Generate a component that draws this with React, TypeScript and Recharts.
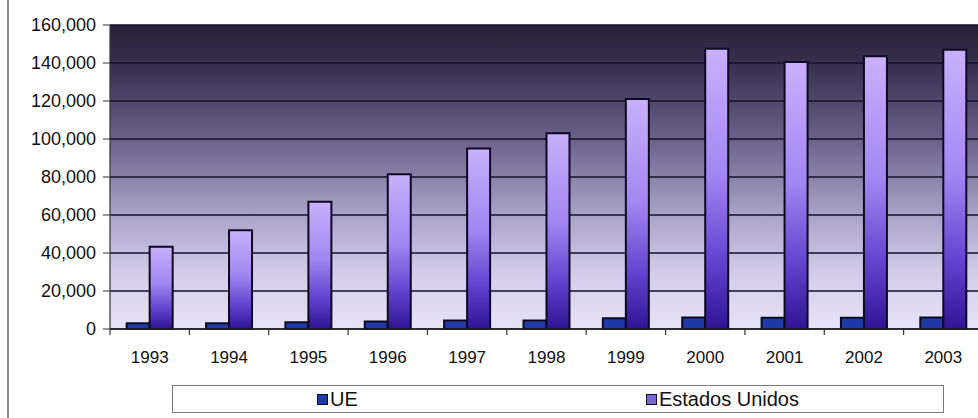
import React from 'react';
import { BarChart, Bar, XAxis, YAxis, CartesianGrid, Legend } from 'recharts';

const years = ['1993', '1994', '1995', '1996', '1997', '1998', '1999', '2000', '2001', '2002', '2003'];
const ueValues = [3000, 3000, 3500, 4000, 4500, 4500, 5700, 6000, 5900, 5900, 6100];
const usValues = [43300, 52000, 67000, 81500, 95000, 103000, 121000, 147500, 140500, 143600, 147000];
const yTicks = [0, 20000, 40000, 60000, 80000, 100000, 120000, 140000, 160000];

const seriesKeys = ['ue', 'us'];
const seriesNames: Record<string, string> = { ue: 'UE', us: 'Estados Unidos' };
const swatchColors: Record<string, string> = { ue: '#1f3aa8', us: '#7a66d0' };

const data = years.map((year, i) => ({ year, ue: ueValues[i], us: usValues[i] }));

const FONT = '"Liberation Sans", Arial, sans-serif';

const YearTick = (props: any) => {
  const { x, y, payload } = props;
  const axisY = y - 22;
  const bx = x - (payload.offset || 0);
  return (
    <g>
      <line x1={bx} x2={bx} y1={axisY} y2={axisY + 6} stroke="#333" strokeWidth={1.2} />
      <text x={x} y={y} dy="0.71em" textAnchor="middle" fill="#111" fontSize={17} fontFamily={FONT}>
        {payload.value}
      </text>
    </g>
  );
};

// Legend drawn in series order, inside a bordered box
const LegendBox = () => (
  <div
    style={{
      boxSizing: 'border-box',
      height: 28,
      border: '1.5px solid #7a7a7a',
      background: '#fff',
      display: 'flex',
      justifyContent: 'space-around',
      alignItems: 'center',
      fontFamily: FONT,
      fontSize: 20,
      color: '#111',
    }}
  >
    {seriesKeys.map((key) => (
      <div key={key} style={{ display: 'flex', alignItems: 'center' }}>
        <span
          style={{
            display: 'inline-block',
            width: 9,
            height: 9,
            background: swatchColors[key],
            border: '1px solid #0c0a22',
            marginRight: 2,
          }}
        />
        <span>{seriesNames[key]}</span>
      </div>
    ))}
  </div>
);

export default function App() {
  return (
    <div
      style={{
        position: 'fixed',
        left: 0,
        top: 0,
        width: 978,
        height: 418,
        overflow: 'hidden',
        background: '#fff',
      }}
    >
      <div style={{ position: 'absolute', left: 7, top: 0, width: 1.5, height: 418, background: '#8a8a8a' }} />
      <BarChart
        width={990}
        height={418}
        data={data}
        margin={{ top: 25, right: 7, bottom: 5, left: 0 }}
        barCategoryGap="21%"
        barGap={0}
      >
        <defs>
          <linearGradient id="plotBg" x1="0" y1="0" x2="0" y2="1">
            <stop offset="0%" stopColor="#272237" />
            <stop offset="14%" stopColor="#38314f" />
            <stop offset="38%" stopColor="#6b638c" />
            <stop offset="62%" stopColor="#a9a2c8" />
            <stop offset="82%" stopColor="#d3cdea" />
            <stop offset="100%" stopColor="#e7e3f7" />
          </linearGradient>
          <linearGradient id="usFill" x1="0" y1="0" x2="0" y2="1">
            <stop offset="0%" stopColor="#c9b0fc" />
            <stop offset="45%" stopColor="#a286f2" />
            <stop offset="75%" stopColor="#6444d0" />
            <stop offset="100%" stopColor="#2e1494" />
          </linearGradient>
        </defs>
        <CartesianGrid vertical={false} stroke="#14102a" strokeWidth={1.3} fill="url(#plotBg)" fillOpacity={1} />
        <XAxis
          dataKey="year"
          height={56}
          tickSize={6}
          tickMargin={16}
          tickLine={false}
          axisLine={{ stroke: '#222', strokeWidth: 1.3 }}
          tick={<YearTick />}
          interval={0}
        />
        <YAxis
          width={110}
          domain={[0, 160000]}
          ticks={yTicks}
          interval={0}
          tickSize={7}
          tickMargin={7}
          tickFormatter={(v: number) => v.toLocaleString('en-US')}
          tick={{ fill: '#111', fontSize: 18, fontFamily: FONT }}
          tickLine={{ stroke: '#333' }}
          axisLine={{ stroke: '#333', strokeWidth: 1.2 }}
        />
        <Legend verticalAlign="bottom" content={<LegendBox />} wrapperStyle={{ left: 172, width: 772, bottom: 5 }} />
        <Bar dataKey="ue" name={seriesNames.ue} fill="#1f3aa8" stroke="#0c0a22" strokeWidth={2} isAnimationActive={false} />
        <Bar dataKey="us" name={seriesNames.us} fill="url(#usFill)" stroke="#0c0a22" strokeWidth={2} isAnimationActive={false} />
      </BarChart>
    </div>
  );
}
